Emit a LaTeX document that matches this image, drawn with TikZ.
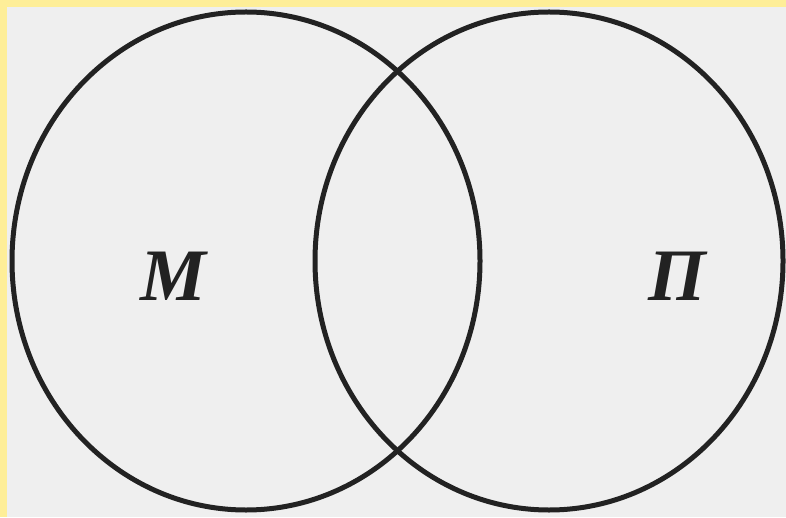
\documentclass[tikz,border=0pt]{standalone}
\usepackage{fontspec}
\setmainfont{Liberation Serif}
\usepackage{xcolor}
\usepackage{tikz}
\usetikzlibrary{shapes.geometric, positioning}
\definecolor{paleyellow}{HTML}{FEEE98}
\definecolor{papergray}{HTML}{EFEFEF}
\definecolor{inkgray}{HTML}{222222}

\begin{document}
\begin{tikzpicture}[
        x=1pt, y=1pt,
        setring/.style={draw=inkgray, line width=5pt, ellipse, inner sep=0pt,
                        minimum width=468pt, minimum height=498pt},
        setname/.style={text=inkgray, font=\fontsize{74}{76}\selectfont\bfseries\itshape,
                        inner sep=0pt}
    ]
      % --- Frame and paper ---
      \useasboundingbox (0,0) rectangle (786,517);
      \fill[paleyellow] (0,0) rectangle (786,517);
      \fill[papergray] (7,0) rectangle (786,510);

      % --- Two sets ---
      \node[setring] (setM) at (246,256) {};
      \node[setring] (setP) at (549,256) {};

      % Set names
      \node[setname] (nameM) at (173,241) {M};
      \node[setname] (nameP) at (677,241) {П};
    \end{tikzpicture}
\end{document}
